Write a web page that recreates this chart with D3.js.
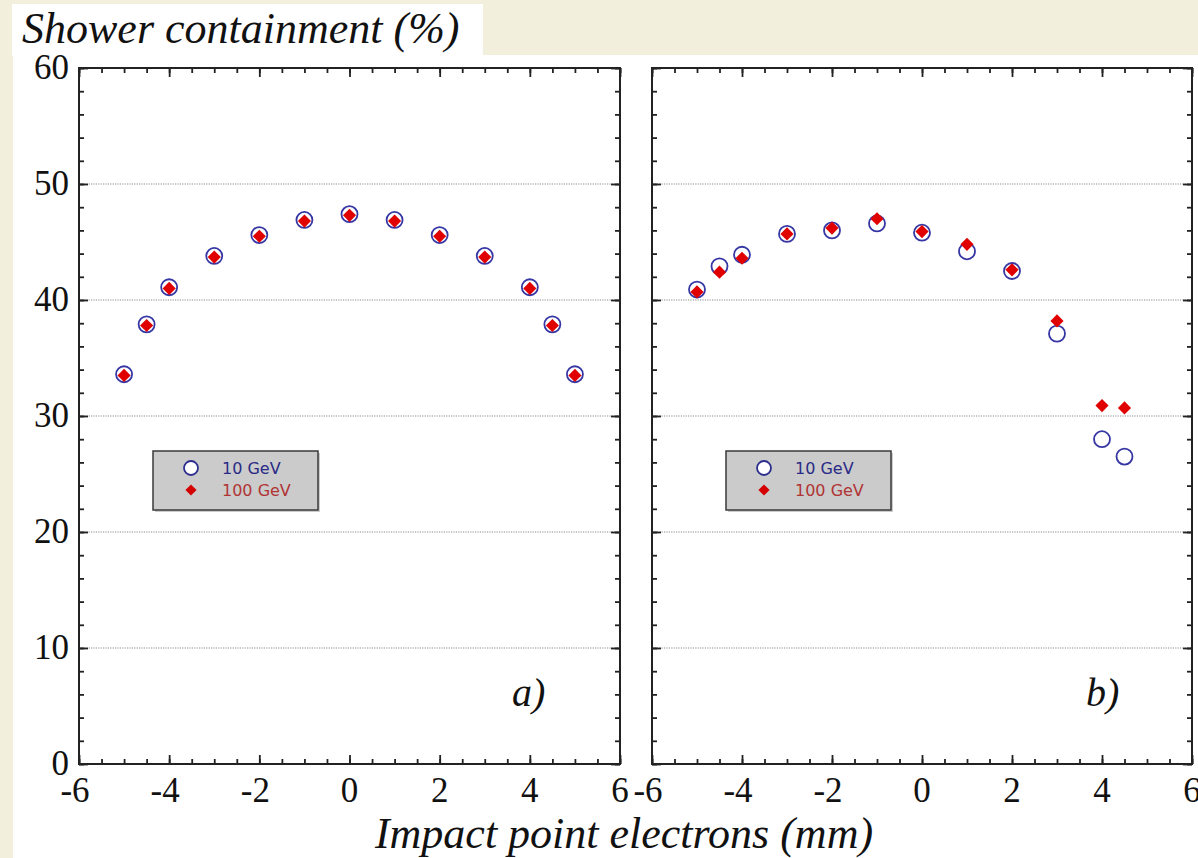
<!DOCTYPE html>
<html>
<head>
<meta charset="utf-8">
<script src="https://cdn.jsdelivr.net/npm/d3@7"></script>
<style>
  html, body { margin: 0; padding: 0; background: #f3efdd; }
  svg { display: block; }
</style>
</head>
<body>
<svg id="chart" width="1198" height="858"></svg>
<script>
// Impact positions (mm) and shower containment (%) for both detector configurations
const impactA = [-5, -4.5, -4, -3, -2, -1, 0, 1, 2, 3, 4, 4.5, 5];
const gev10A  = [33.6, 37.9, 41.1, 43.8, 45.6, 46.9, 47.4, 46.9, 45.6, 43.8, 41.1, 37.9, 33.6];
const gev100A = [33.5, 37.8, 41.0, 43.7, 45.5, 46.8, 47.3, 46.8, 45.5, 43.7, 41.0, 37.8, 33.5];

const impactB = [-5, -4.5, -4, -3, -2, -1, 0, 1, 2, 3, 4, 4.5];
const gev10B  = [40.9, 42.9, 43.9, 45.7, 46.0, 46.6, 45.8, 44.2, 42.5, 37.1, 28.0, 26.5];
const gev100B = [40.7, 42.4, 43.6, 45.7, 46.2, 47.0, 45.9, 44.8, 42.6, 38.2, 30.9, 30.7];

const xTicks = [-6, -4, -2, 0, 2, 4, 6];
const yTicks = [0, 10, 20, 30, 40, 50, 60];
const gridValues = [10, 20, 30, 40, 50];
const seriesNames = ["10 GeV", "100 GeV"];
const panelLabels = ["a)", "b)"];

const svg = d3.select("#chart");
const serif = "'Liberation Serif', 'Times New Roman', serif";
const sans = "'DejaVu Sans', 'Noto Sans', sans-serif";

// white page areas
svg.append("rect").attr("x", 13).attr("y", 55).attr("width", 1185).attr("height", 803).attr("fill", "#fff");
svg.append("rect").attr("x", 12).attr("y", 4).attr("width", 471).attr("height", 52).attr("fill", "#fff");

const plotTop = 68, plotBottom = 764;
const y = d3.scaleLinear().domain([0, 60]).range([plotBottom, plotTop]);

const panels = [
  { left: 79,  right: 620,  xs: impactA, s10: gev10A, s100: gev100A, label: panelLabels[0], yLabels: true },
  { left: 652, right: 1192, xs: impactB, s10: gev10B, s100: gev100B, label: panelLabels[1], yLabels: false }
];

const diamond = d3.symbol().type(d3.symbolDiamond2).size(110);

panels.forEach((p, pi) => {
  const x = d3.scaleLinear().domain([-6, 6]).range([p.left, p.right]);
  const g = svg.append("g");

  // dotted horizontal grid
  g.selectAll("line.grid").data(gridValues).join("line")
    .attr("x1", p.left).attr("x2", p.right)
    .attr("y1", d => y(d)).attr("y2", d => y(d))
    .attr("stroke", "#8a8a8a").attr("stroke-width", 1.2)
    .attr("stroke-dasharray", "1.2,1.2");

  // inward ticks on all four sides
  const tickStyle = sel => sel.call(s => s.select(".domain").remove())
    .call(s => s.selectAll("line").attr("stroke", "#222").attr("stroke-width", 1.8))
    .call(s => s.selectAll("text").remove());

  const xMinor = d3.range(-6, 6.01, 0.5);
  const yMinor = d3.range(0, 60.01, 2);
  g.append("g").attr("transform", `translate(0,${plotBottom})`)
    .call(d3.axisTop(x).tickValues(xMinor).tickSize(5)).call(tickStyle);
  g.append("g").attr("transform", `translate(0,${plotBottom})`)
    .call(d3.axisTop(x).tickValues(xTicks).tickSize(9)).call(tickStyle);
  g.append("g").attr("transform", `translate(0,${plotTop})`)
    .call(d3.axisBottom(x).tickValues(xMinor).tickSize(5)).call(tickStyle);
  g.append("g").attr("transform", `translate(0,${plotTop})`)
    .call(d3.axisBottom(x).tickValues(xTicks).tickSize(9)).call(tickStyle);
  g.append("g").attr("transform", `translate(${p.left},0)`)
    .call(d3.axisRight(y).tickValues(yMinor).tickSize(5)).call(tickStyle);
  g.append("g").attr("transform", `translate(${p.left},0)`)
    .call(d3.axisRight(y).tickValues(yTicks).tickSize(9)).call(tickStyle);
  g.append("g").attr("transform", `translate(${p.right},0)`)
    .call(d3.axisLeft(y).tickValues(yMinor).tickSize(5)).call(tickStyle);
  g.append("g").attr("transform", `translate(${p.right},0)`)
    .call(d3.axisLeft(y).tickValues(yTicks).tickSize(9)).call(tickStyle);

  // frame
  g.append("rect").attr("x", p.left).attr("y", plotTop)
    .attr("width", p.right - p.left).attr("height", plotBottom - plotTop)
    .attr("fill", "none").attr("stroke", "#222").attr("stroke-width", 2);

  // x tick labels
  g.selectAll("text.xt").data(xTicks).join("text")
    .attr("x", d => x(d) + (d < 0 ? -4 : 0)).attr("y", plotBottom + 38)
    .attr("text-anchor", "middle")
    .attr("font-family", serif).attr("font-size", 35).attr("fill", "#111")
    .text(d => d);

  if (p.yLabels) {
    g.selectAll("text.yt").data(yTicks).join("text")
      .attr("x", p.left - 10).attr("y", d => y(d) + 11)
      .attr("text-anchor", "end")
      .attr("font-family", serif).attr("font-size", 35).attr("fill", "#111")
      .text(d => d);
  }

  // 10 GeV open circles
  g.selectAll("circle.s10").data(p.xs).join("circle")
    .attr("cx", d => x(d)).attr("cy", (d, i) => y(p.s10[i])).attr("r", 8)
    .attr("fill", "#fff").attr("stroke", "#3636a4").attr("stroke-width", 1.8);

  // 100 GeV filled diamonds
  g.selectAll("path.s100").data(p.xs).join("path")
    .attr("d", diamond)
    .attr("transform", (d, i) => `translate(${x(d)},${y(p.s100[i])})`)
    .attr("fill", "#e00000");

  // legend box
  const lx = p.left + 74, ly = 451;
  const lg = g.append("g").attr("transform", `translate(${lx},${ly})`);
  lg.append("rect").attr("x", 2).attr("y", 2).attr("width", 165).attr("height", 59)
    .attr("fill", "#9a9a9a").attr("opacity", 0.5);
  lg.append("rect").attr("width", 165).attr("height", 59)
    .attr("fill", "#cbcbcb").attr("stroke", "#3a3a3a").attr("stroke-width", 1.5);
  lg.append("circle").attr("cx", 38).attr("cy", 17).attr("r", 7)
    .attr("fill", "#fff").attr("stroke", "#2e2e8e").attr("stroke-width", 1.8);
  lg.append("path").attr("d", d3.symbol().type(d3.symbolDiamond2).size(80))
    .attr("transform", "translate(38,39)").attr("fill", "#d40000");
  lg.append("text").attr("x", 69).attr("y", 23)
    .attr("font-family", sans).attr("font-size", 16).attr("fill", "#2a2a86")
    .text(seriesNames[0]);
  lg.append("text").attr("x", 69).attr("y", 45)
    .attr("font-family", sans).attr("font-size", 16).attr("fill", "#b03434")
    .text(seriesNames[1]);

  // panel label
  g.append("text").attr("x", p.right - 108 + (pi ? 2 : 0)).attr("y", 706)
    .attr("font-family", serif).attr("font-style", "italic").attr("font-size", 40)
    .attr("fill", "#111").text(p.label);
});

// axis titles
svg.append("text").attr("x", 22).attr("y", 43)
  .attr("font-family", serif).attr("font-style", "italic").attr("font-size", 44)
  .attr("fill", "#111").text("Shower containment (%)");
svg.append("text").attr("x", 624).attr("y", 848).attr("text-anchor", "middle")
  .attr("font-family", serif).attr("font-style", "italic").attr("font-size", 44)
  .attr("fill", "#111").text("Impact point electrons (mm)");
</script>
</body>
</html>
